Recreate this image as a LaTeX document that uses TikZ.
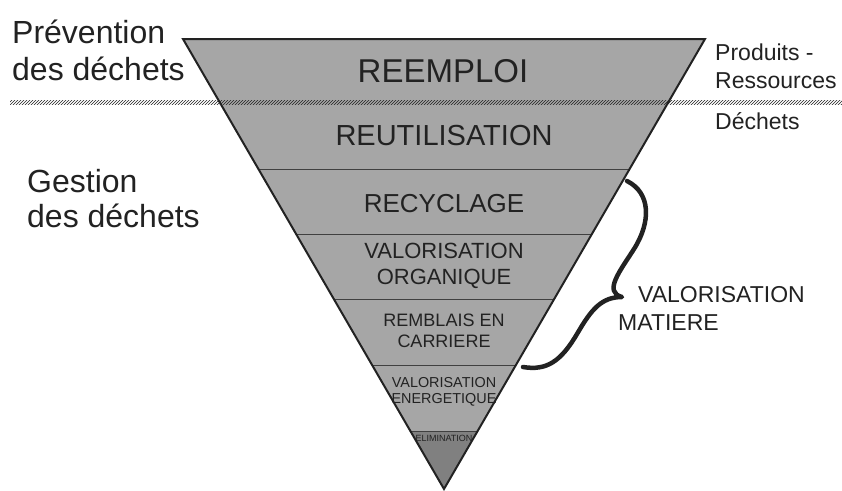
\documentclass[tikz,border=0pt]{standalone}
\usepackage{fontspec}
\setmainfont{Liberation Sans}
\usetikzlibrary{patterns}
\definecolor{bandgray}{HTML}{A6A6A6}
\definecolor{darkband}{HTML}{808080}
\definecolor{inkgray}{HTML}{222222}
\definecolor{linegray}{HTML}{404040}
\tikzset{
  lbl/.style={inner sep=0pt, text=inkgray, anchor=base},
  lblw/.style={inner sep=0pt, text=inkgray, anchor=base west},
  divider/.style={draw=linegray, line width=1pt},
}
\newcommand{\fs}[1]{\fontsize{#1}{#1}\selectfont}
\begin{document}
\begin{tikzpicture}[x=1pt,y=-1pt]
\useasboundingbox (0,0) rectangle (842,490);
% triangle
\coordinate (tl) at (183,39);
\coordinate (tr) at (705,39);
\coordinate (ap) at (444,489);
\fill[bandgray] (tl) -- (tr) -- (ap) -- cycle;
\begin{scope}
  \clip (tl) -- (tr) -- (ap) -- cycle;
  \fill[darkband] (150,431) rectangle (740,495);
  \foreach \yy in {169,234,299,365,431} {
    \draw[divider] (150,\yy) -- (740,\yy);
  }
\end{scope}
% hatched boundary line
\fill[pattern=north east lines, pattern color=inkgray] (10,100) rectangle (842,104.5);
\draw[inkgray, line width=2pt, line join=miter] (ap) -- (tl) -- (tr) -- cycle;
% band labels
\node[lbl] (reemploi) at (443,82) {\fs{33}REEMPLOI};
\node[lbl] (reutil) at (444,145) {\fs{29}REUTILISATION};
\node[lbl] (recyc) at (444,212) {\fs{26}RECYCLAGE};
\node[lbl] (valo1) at (444,258) {\fs{22}VALORISATION};
\node[lbl] (valo2) at (444,284) {\fs{22}ORGANIQUE};
\node[lbl] (rembl1) at (444,326) {\fs{18}REMBLAIS EN};
\node[lbl] (rembl2) at (444,347) {\fs{18}CARRIERE};
\node[lbl] (ener1) at (444,387) {\fs{14.4}VALORISATION};
\node[lbl] (ener2) at (444,403) {\fs{14.4}ENERGETIQUE};
\node[lbl] (elim) at (444,441) {\fs{9}ELIMINATION};
% side labels
\node[lblw] (prev1) at (12,43) {\fs{32}Prévention};
\node[lblw] (prev2) at (12,80) {\fs{32}des déchets};
\node[lblw] (gest1) at (27,192) {\fs{32}Gestion};
\node[lblw] (gest2) at (27,227) {\fs{32}des déchets};
\node[lblw] (prod1) at (715,60) {\fs{23}Produits -};
\node[lblw] (prod2) at (715,88) {\fs{23}Ressources};
\node[lblw] (dech) at (715,129) {\fs{23}Déchets};
\node[lblw] (vm1) at (638,302) {\fs{23}VALORISATION};
\node[lblw] (vm2) at (618,330) {\fs{23}MATIERE};
% brace
\draw[inkgray, line width=4.5pt, line cap=round, line join=round]
  (627,181) .. controls (651,193) and (651,222) .. (634,249)
  .. controls (620,271) and (603,292) .. (622,297)
  .. controls (601,297) and (591,310) .. (577,334)
  .. controls (561,361) and (547,371) .. (523,367);
\end{tikzpicture}
\end{document}
